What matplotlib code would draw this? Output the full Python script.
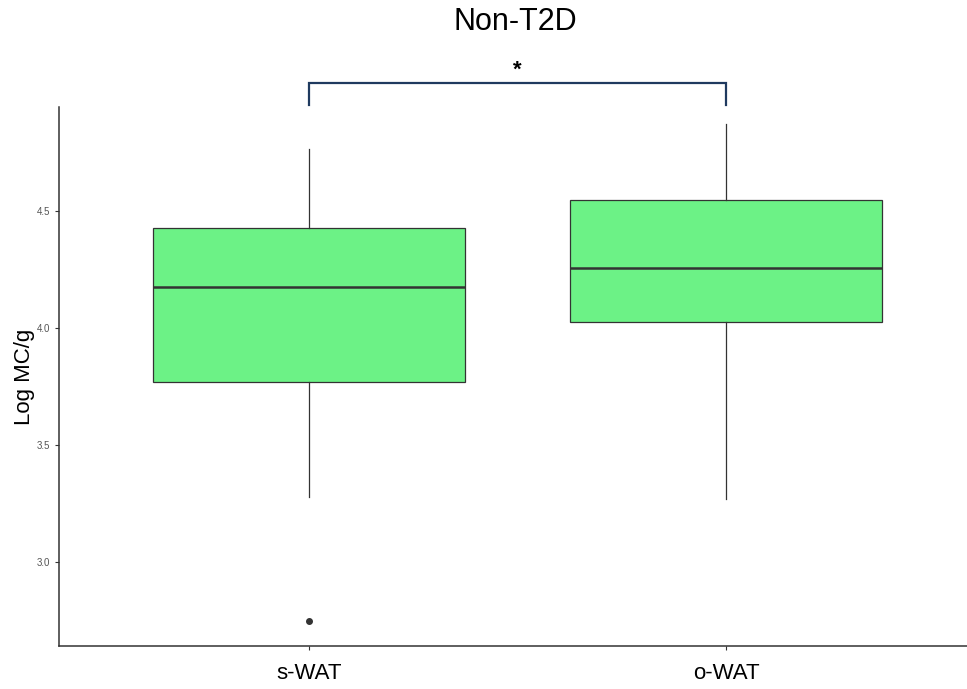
import numpy as np
import matplotlib.pyplot as plt

plt.rcParams['font.family'] = ['Liberation Sans', 'DejaVu Sans']

# box statistics
groups = ['s-WAT', 'o-WAT']
q1 = [3.77, 4.026]
med = [4.177, 4.258]
q3 = [4.425, 4.545]
whislo = [3.278, 3.268]
whishi = [4.765, 4.872]
outliers = [[2.748], []]
yticks = [3.0, 3.5, 4.0, 4.5]

stats = []
for i in range(len(groups)):
    stats.append(dict(label=groups[i], q1=q1[i], med=med[i], q3=q3[i],
                      whislo=whislo[i], whishi=whishi[i], fliers=outliers[i]))

fig = plt.figure(figsize=(9.67, 6.89), dpi=100)
ax = fig.add_axes([59 / 967, 43 / 689, 908 / 967, 539 / 689])

ax.bxp(stats, positions=[1, 2], widths=0.75, patch_artist=True, showcaps=False,
       boxprops=dict(facecolor='#6cf286', edgecolor='#333333', linewidth=0.9),
       medianprops=dict(color='#333333', linewidth=1.8),
       whiskerprops=dict(color='#333333', linewidth=0.9),
       flierprops=dict(marker='o', markerfacecolor='#333333', markeredgecolor='#333333',
                       markersize=4))

ax.set_xlim(0.4, 2.578)
ax.set_ylim(2.641, 4.944)
ax.set_yticks(yticks)
ax.set_yticklabels(['%.1f' % t for t in yticks])
ax.tick_params(axis='y', labelsize=7, labelcolor='#555555', length=3, color='#333333')
ax.tick_params(axis='x', labelsize=16, labelcolor='black', length=3, color='#333333', pad=9)
ax.set_xticks([1, 2])
ax.set_xticklabels(groups)

for s in ['top', 'right']:
    ax.spines[s].set_visible(False)
for s in ['left', 'bottom']:
    ax.spines[s].set_color('#333333')
    ax.spines[s].set_linewidth(1.1)

ax.set_ylabel('Log MC/g', fontsize=16, labelpad=1)

# significance bracket
ax.plot([1, 1, 2, 2], [4.953, 5.047, 5.047, 4.953], color='#1f3a5f', linewidth=1.6,
        clip_on=False, solid_joinstyle='miter')
ax.text(1.5, 5.055, '*', ha='center', va='bottom', fontsize=16, fontweight='bold')

fig.text(0.533, 0.968, 'Non-T2D', ha='center', va='center', fontsize=22)

fig.savefig('out.png', dpi=100)
